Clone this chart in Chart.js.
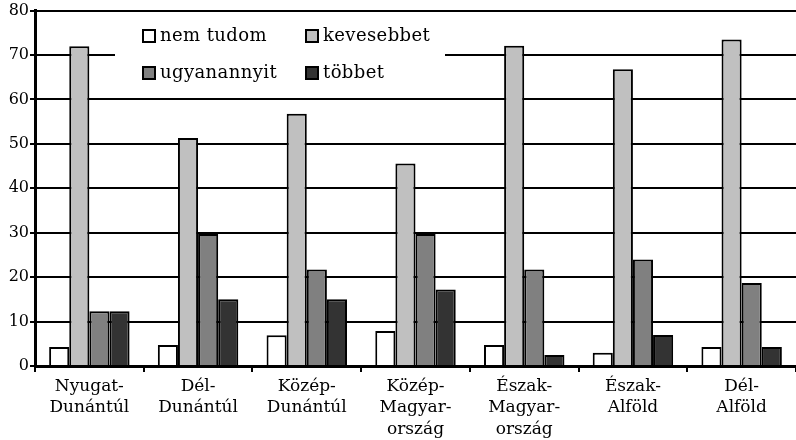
<!DOCTYPE html>
<html>
<head>
<meta charset="utf-8">
<script src="https://cdn.jsdelivr.net/npm/chart.js@4.4.0/dist/chart.umd.min.js"></script>
<style>
  html, body { margin: 0; padding: 0; background: #fff; }
  #wrap { width: 796px; height: 440px; }
</style>
</head>
<body>
<div id="wrap"><canvas id="myChart"></canvas></div>
<script>
// ===============================
// Adatok
// ===============================
const regiok = [
    ['Nyugat-', 'Dunántúl'],
    ['Dél-', 'Dunántúl'],
    ['Közép-', 'Dunántúl'],
    ['Közép-', 'Magyar-', 'ország'],
    ['Észak-', 'Magyar-', 'ország'],
    ['Észak-', 'Alföld'],
    ['Dél-', 'Alföld']
];
const nemTudom    = [4.3, 4.7, 6.9, 7.9, 4.7, 3.0, 4.3];
const kevesebbet  = [72.0, 51.3, 56.8, 45.6, 72.1, 66.8, 73.5];
const ugyanannyit = [12.3, 29.7, 21.7, 29.7, 21.7, 24.0, 18.7];
const tobbet      = [12.3, 15.0, 15.0, 17.2, 2.5, 7.0, 4.3];
const yTicks      = [0, 10, 20, 30, 40, 50, 60, 70, 80];

const FONT = '"DejaVu Serif", serif';

// ===============================
// Jelmagyarázat a rajzterületen belül
// ===============================
const insideLegend = {
    id: 'insideLegend',
    afterDraw(chart) {
        const ctx = chart.ctx;
        ctx.save();
        ctx.fillStyle = '#fff';
        ctx.fillRect(115, 13, 330, 82);

        const pos = [[143, 36], [306, 36], [143, 73], [306, 73]];
        ctx.font = '18px ' + FONT;
        if ('letterSpacing' in ctx) ctx.letterSpacing = '0.4px';
        ctx.textBaseline = 'middle';
        chart.data.datasets.forEach((ds, i) => {
            const [x, y] = pos[i];
            ctx.fillStyle = ds.backgroundColor;
            ctx.fillRect(x, y - 6, 12, 12);
            ctx.strokeStyle = '#000';
            ctx.lineWidth = 2;
            ctx.strokeRect(x, y - 6, 12, 12);
            ctx.fillStyle = '#000';
            ctx.fillText(ds.label, x + 17, y);
        });
        ctx.restore();
    }
};

function makeDataset(label, data, color) {
    return {
        label: label,
        data: data,
        backgroundColor: color,
        borderColor: '#000',
        borderWidth: 2,
        borderSkipped: 'bottom',
        categoryPercentage: 0.74,
        barPercentage: 1.0
    };
}

const ctx = document.getElementById('myChart').getContext('2d');
new Chart(ctx, {
    type: 'bar',
    data: {
        labels: regiok,
        datasets: [
            makeDataset('nem tudom', nemTudom, '#ffffff'),
            makeDataset('kevesebbet', kevesebbet, '#c0c0c0'),
            makeDataset('ugyanannyit', ugyanannyit, '#808080'),
            makeDataset('többet', tobbet, '#333333')
        ]
    },
    options: {
        responsive: true,
        maintainAspectRatio: false,
        animation: false,
        layout: { padding: { top: 0, right: 0, left: 0, bottom: 0 } },
        plugins: {
            legend: { display: false },
            tooltip: { enabled: false }
        },
        scales: {
            x: {
                grid: {
                    display: true,
                    drawOnChartArea: false,
                    drawTicks: true,
                    tickLength: 6,
                    color: '#000',
                    lineWidth: 2
                },
                border: { color: '#000', width: 3 },
                ticks: {
                    color: '#000',
                    font: { family: FONT, size: 17, lineHeight: 1.25 },
                    maxRotation: 0,
                    autoSkip: false,
                    padding: 4
                },
                afterFit(scale) { scale.height = 74; }
            },
            y: {
                min: 0,
                max: 80,
                afterBuildTicks(scale) {
                    scale.ticks = yTicks.map(v => ({ value: v }));
                },
                grid: {
                    color: '#000',
                    lineWidth: 2,
                    tickLength: 5
                },
                border: { color: '#000', width: 3 },
                ticks: {
                    color: '#000',
                    font: { family: FONT, size: 16 },
                    padding: 1
                },
                afterFit(scale) { scale.width = 35; }
            }
        }
    },
    plugins: [insideLegend]
});
</script>
</body>
</html>
